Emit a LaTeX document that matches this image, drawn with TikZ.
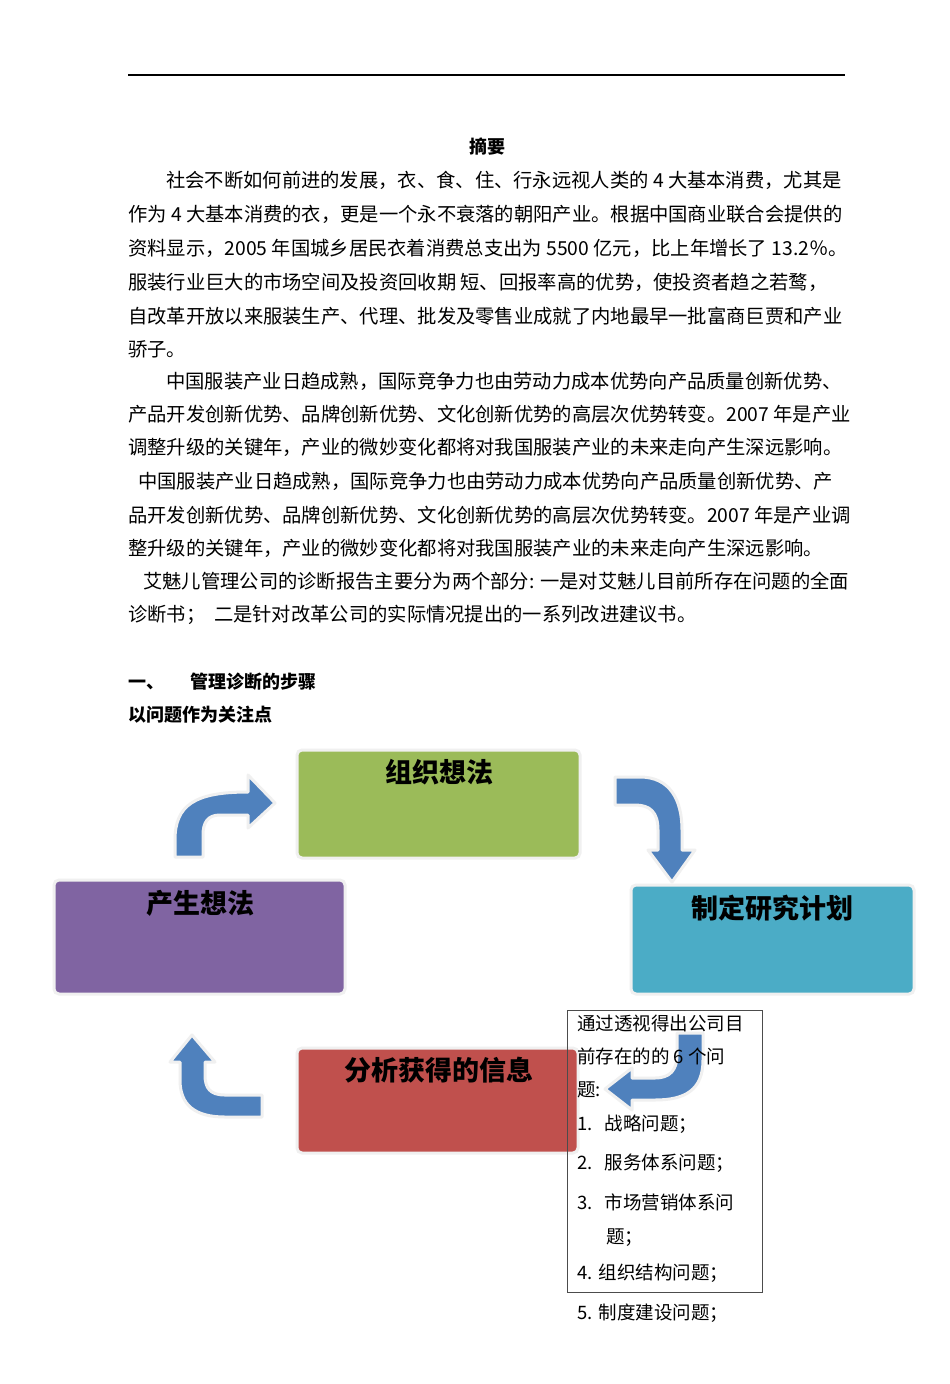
\documentclass[tikz,border=0pt]{standalone}
\usepackage{fontspec}
\setmainfont{Noto Sans CJK SC}
\newfontfamily\cjk{Noto Sans CJK SC}
\definecolor{arrblue}{HTML}{4F81BD}
\definecolor{bgreen}{HTML}{9BBB59}
\definecolor{bpurple}{HTML}{8064A2}
\definecolor{bcyan}{HTML}{4BACC6}
\definecolor{bred}{HTML}{C0504D}
\begin{document}
\begin{tikzpicture}[x=1pt,y=-1pt,
  line/.style={anchor=base west,inner sep=0pt,font=\fontsize{19.3}{20}\selectfont},
  bline/.style={anchor=base west,inner sep=0pt,font=\fontsize{18}{20}\selectfont\bfseries},
  sline/.style={anchor=base west,inner sep=0pt,font=\fontsize{18.5}{20}\selectfont},
  pbox/.style={draw=black!6,line width=3pt,rounded corners=5pt},
  btitle/.style={inner sep=0pt,font=\fontsize{27}{30}\selectfont\bfseries},
  barrow/.style={fill=arrblue,draw=black!6,line width=3pt,line join=round}]
\useasboundingbox (0,0) rectangle (950,1384);
\fill[white] (0,0) rectangle (950,1384);
\coordinate (la) at (128,75); \coordinate (lb) at (845,75);
\draw[line width=1.5pt] (la) -- (lb);
\node[inner sep=0pt,font=\fontsize{18}{20}\selectfont\bfseries] (t0) at (487,147) {摘要};
\node[line] (l1) at (166,187) {社会不断如何前进的发展，衣、食、住、行永远视人类的 4 大基本消费，尤其是};
\node[line] (l2) at (128,221) {作为 4 大基本消费的衣，更是一个永不衰落的朝阳产业。根据中国商业联合会提供的};
\node[line] (l3) at (128,255) {资料显示，2005 年国城乡居民衣着消费总支出为 5500 亿元，比上年增长了 13.2％。};
\node[line] (l4) at (128,289) {服装行业巨大的市场空间及投资回收期 短、回报率高的优势，使投资者趋之若鹜，};
\node[line] (l5) at (128,323) {自改革开放以来服装生产、代理、批发及零售业成就了内地最早一批富商巨贾和产业};
\node[line] (l6) at (128,356) {骄子。};
\node[line] (l7) at (166,388) {中国服装产业日趋成熟，国际竞争力也由劳动力成本优势向产品质量创新优势、};
\node[line] (l8) at (128,421) {产品开发创新优势、品牌创新优势、文化创新优势的高层次优势转变。2007 年是产业};
\node[line] (l9) at (128,454) {调整升级的关键年，产业的微妙变化都将对我国服装产业的未来走向产生深远影响。};
\node[line] (l10) at (138,488) {中国服装产业日趋成熟，国际竞争力也由劳动力成本优势向产品质量创新优势、产};
\node[line] (l11) at (128,522) {品开发创新优势、品牌创新优势、文化创新优势的高层次优势转变。2007 年是产业调};
\node[line] (l12) at (128,555) {整升级的关键年，产业的微妙变化都将对我国服装产业的未来走向产生深远影响。};
\node[line] (l13) at (143,588) {艾魅儿管理公司的诊断报告主要分为两个部分: 一是对艾魅儿目前所存在问题的全面};
\node[line] (l14) at (128,621) {诊断书；\ \ 二是针对改革公司的实际情况提出的一系列改进建议书。};
\node[bline] (h1) at (128,688) {一、\hspace{26pt}管理诊断的步骤};
\node[bline] (h2) at (128,721) {以问题作为关注点};
% boxes
\filldraw[pbox,fill=bgreen] (297,750) rectangle (580,858);
\node[btitle] (g) at (439,772) {组织想法};
\filldraw[pbox,fill=bpurple] (54,880) rectangle (345,994);
\node[btitle] (p) at (200,903) {产生想法};
\filldraw[pbox,fill=bcyan] (631,885) rectangle (914,994);
\node[btitle] (c) at (772,908) {制定研究计划};
\filldraw[pbox,fill=bred] (297,1048) rectangle (578,1153);
\node[btitle] (r) at (439,1070) {分析获得的信息};
% arrows
\filldraw[barrow] (175,857) -- (175,840) .. controls (175,805) and (195,792) .. (248,792) -- (248,775) -- (275,803) -- (248,828) -- (248,815) -- (220,815) .. controls (208,815) and (203,822) .. (203,835) -- (203,857) -- cycle;
\filldraw[barrow] (615,777) -- (640,777) .. controls (670,777) and (682,800) .. (682,830) -- (682,850) -- (695,850) -- (672,882) -- (648,850) -- (658,850) -- (658,830) .. controls (658,812) and (650,805) .. (635,805) -- (615,805) -- cycle;
\filldraw[barrow] (262,1095) -- (225,1095) .. controls (210,1095) and (205,1088) .. (205,1075) -- (205,1062) -- (215,1062) -- (192,1035) -- (170,1062) -- (180,1062) -- (180,1080) .. controls (180,1105) and (195,1117) .. (225,1117) -- (262,1117) -- cycle;
% text box
\draw[black!70,line width=0.8pt] (567,1010) rectangle (762,1292);
\filldraw[barrow] (677,1033) -- (703,1033) -- (703,1060) .. controls (703,1090) and (685,1100) .. (655,1100) -- (632,1100) -- (632,1110) -- (605,1089) -- (632,1068) -- (632,1078) -- (655,1078) .. controls (670,1078) and (677,1070) .. (677,1055) -- cycle;
\node[sline] (b1) at (577,1030) {通过透视得出公司目};
\node[sline] (b2) at (577,1063) {前存在的的 6 个问};
\node[sline] (b3) at (577,1096) {题:};
\node[sline] (b4) at (577,1130) {1.\hspace{12pt}战略问题；};
\node[sline] (b5) at (577,1169) {2.\hspace{12pt}服务体系问题；};
\node[sline] (b6) at (577,1209) {3.\hspace{12pt}市场营销体系问};
\node[sline] (b7) at (606,1243) {题；};
\node[sline] (b8) at (577,1279) {4.\hspace{6pt}组织结构问题；};
\node[sline] (b9) at (577,1319) {5.\hspace{6pt}制度建设问题；};
\end{tikzpicture}
\end{document}
